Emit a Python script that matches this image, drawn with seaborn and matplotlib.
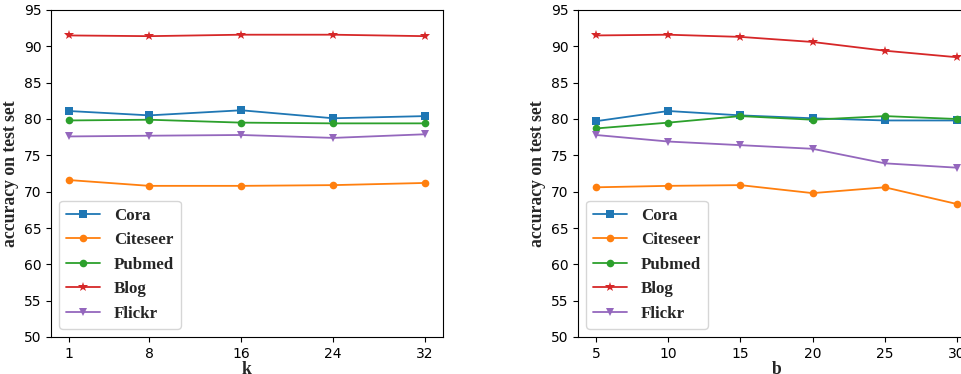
import numpy as np
import pandas as pd
import matplotlib
matplotlib.use("Agg")
import matplotlib.pyplot as plt
import seaborn as sns

sns.set_style("ticks")
plt.rcParams['font.family'] = ['DejaVu Sans']

datasets = ["Cora", "Citeseer", "Pubmed", "Blog", "Flickr"]
markers = ["s", "o", "o", "*", "v"]
colors = ["#1f77b4", "#ff7f0e", "#2ca02c", "#d62728", "#9467bd"]

k_values = [1, 8, 16, 24, 32]
k_cora = [81.1, 80.5, 81.2, 80.1, 80.4]
k_citeseer = [71.6, 70.8, 70.8, 70.9, 71.2]
k_pubmed = [79.8, 79.9, 79.5, 79.4, 79.4]
k_blog = [91.5, 91.4, 91.6, 91.6, 91.4]
k_flickr = [77.6, 77.7, 77.8, 77.4, 77.9]

b_values = [5, 10, 15, 20, 25, 30]
b_cora = [79.7, 81.1, 80.5, 80.1, 79.8, 79.8]
b_citeseer = [70.6, 70.8, 70.9, 69.8, 70.6, 68.3]
b_pubmed = [78.7, 79.5, 80.4, 79.9, 80.4, 80.0]
b_blog = [91.5, 91.6, 91.3, 90.6, 89.4, 88.5]
b_flickr = [77.8, 76.9, 76.4, 75.9, 73.9, 73.3]

serif_bold = {"family": "Liberation Serif", "weight": "bold", "size": 12.7}


def draw_panel(ax, xs, series, xlabel):
    for name, ys, m, c in zip(datasets, series, markers, colors):
        df = pd.DataFrame({"x": xs, "y": ys})
        ms = 7 if m == "*" else 5.5
        sns.lineplot(data=df, x="x", y="y", ax=ax, marker=m, color=c,
                     markersize=ms, markeredgewidth=0, linewidth=1.3, label=name)
    ax.set_xticks(xs)
    ax.set_ylim(50, 95)
    ax.set_yticks(range(50, 96, 5))
    ax.tick_params(labelsize=10, colors="black", length=3.5)
    ax.set_xlabel(xlabel, fontdict=serif_bold, labelpad=0)
    ax.set_ylabel("accuracy on test set", fontdict=serif_bold, labelpad=3)
    for sp in ax.spines.values():
        sp.set_color("black")
    ax.legend(loc="lower left", prop={"family": "Liberation Serif", "weight": "bold", "size": 12.2})


fig = plt.figure(figsize=(9.61, 3.74), dpi=100)
ax1 = fig.add_axes([51 / 961, 37 / 374, 392 / 961, 327 / 374])
ax2 = fig.add_axes([578 / 961, 37 / 374, 397 / 961, 327 / 374])

draw_panel(ax1, k_values, [k_cora, k_citeseer, k_pubmed, k_blog, k_flickr], "k")
draw_panel(ax2, b_values, [b_cora, b_citeseer, b_pubmed, b_blog, b_flickr], "b")

fig.savefig("out.png", dpi=100)
